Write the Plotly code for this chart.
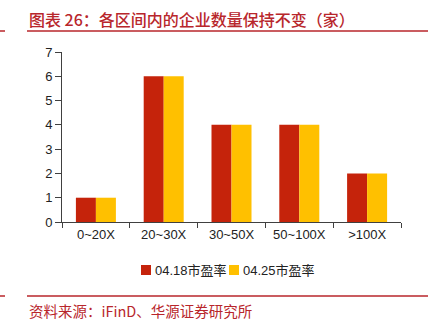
import plotly.graph_objects as go

# Chart data
categories = ["0~20X", "20~30X", "30~50X", "50~100X", ">100X"]
pe_0418 = [1, 6, 4, 4, 2]
pe_0425 = [1, 6, 4, 4, 2]
series_names = ["04.18市盈率", "04.25市盈率"]
title_text = "图表 26：各区间内的企业数量保持不变（家）"
source_text = "资料来源：iFinD、华源证券研究所"

RED = "#C5230B"
YELLOW = "#FFC000"
DARK_RED = "#B8262B"
AXIS = "#404040"

W, H = 431, 332
ML, MR, MT, MB = 62, 30, 52, 110
PW, PH = W - ML - MR, H - MT - MB


def px_x(v):
    return (v - ML) / PW


def px_y(v):
    return (H - MB - v) / PH


fig = go.Figure()
fig.add_trace(go.Bar(x=categories, y=pe_0418, name=series_names[0],
                     marker=dict(color=RED, line=dict(width=0))))
fig.add_trace(go.Bar(x=categories, y=pe_0425, name=series_names[1],
                     marker=dict(color=YELLOW, line=dict(width=0))))

shapes = []
# red rules above and below the chart body
for yy in (31, 296):
    shapes.append(dict(type="line", xref="paper", yref="paper",
                       x0=px_x(27), x1=px_x(428), y0=px_y(yy), y1=px_y(yy),
                       line=dict(color=DARK_RED, width=1.5)))
    shapes.append(dict(type="line", xref="paper", yref="paper",
                       x0=px_x(0), x1=px_x(5), y0=px_y(yy), y1=px_y(yy),
                       line=dict(color=DARK_RED, width=1.5)))

# legend swatches
legend_items = [(141, RED, series_names[0]), (229, YELLOW, series_names[1])]
annotations = []
for x0, col, name in legend_items:
    shapes.append(dict(type="rect", xref="paper", yref="paper",
                       x0=px_x(x0), x1=px_x(x0 + 10), y0=px_y(275), y1=px_y(265),
                       fillcolor=col, line=dict(width=0)))
    annotations.append(dict(text=name, xref="paper", yref="paper",
                            x=px_x(x0 + 12), y=px_y(270), xanchor="left", yanchor="middle",
                            showarrow=False,
                            font=dict(family="Liberation Sans, Noto Sans CJK SC", size=13, color="#222")))

annotations.append(dict(text=title_text, xref="paper", yref="paper",
                        x=px_x(27), y=px_y(19), xanchor="left", yanchor="middle",
                        showarrow=False,
                        font=dict(family="Noto Sans CJK SC", size=16, color=DARK_RED, weight=500)))
annotations.append(dict(text=source_text, xref="paper", yref="paper",
                        x=px_x(27), y=px_y(310), xanchor="left", yanchor="middle",
                        showarrow=False,
                        font=dict(family="Noto Sans CJK SC", size=14.5, color=DARK_RED)))

fig.update_layout(
    width=W, height=H,
    margin=dict(l=ML, r=MR, t=MT, b=MB, pad=0),
    paper_bgcolor="white", plot_bgcolor="white",
    barmode="group", bargap=0.41, bargroupgap=0,
    showlegend=False,
    shapes=shapes, annotations=annotations,
    xaxis=dict(showline=True, linecolor=AXIS, linewidth=1,
               ticks="outside", tickson="boundaries", ticklen=5, tickcolor=AXIS,
               showgrid=False, zeroline=False,
               tickfont=dict(family="Liberation Sans", size=13, color="#222")),
    yaxis=dict(range=[0, 7], dtick=1, showline=True, linecolor=AXIS, linewidth=1,
               ticks="outside", ticklen=6, tickcolor=AXIS,
               showgrid=False, zeroline=False,
               tickfont=dict(family="Liberation Sans", size=13, color="#222")),
)

fig.write_html("out.html")
